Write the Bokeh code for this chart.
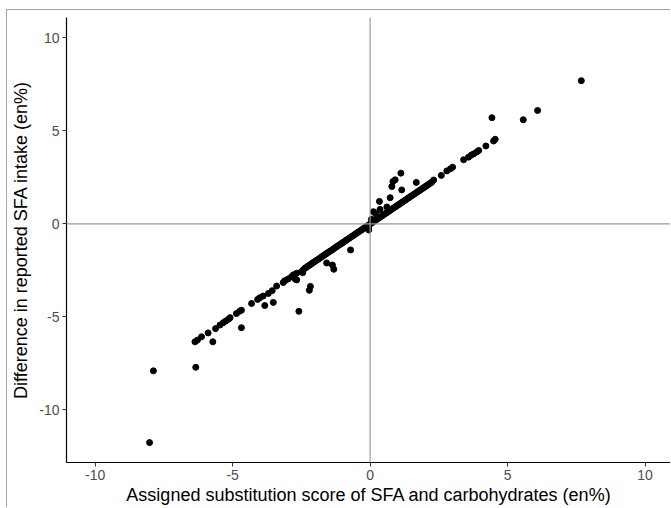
from bokeh.plotting import figure
from bokeh.models import Range1d, FixedTicker, Span
from bokeh.embed import file_html
from bokeh.resources import INLINE

# ---- data ----
assigned_score = [
    -8.02, -7.88, -6.34,
    -6.37, -6.28, -6.13, -5.89, -5.72, -5.62, -5.46, -5.34, -5.25, -5.15, -5.09,
    -4.86, -4.74, -4.68, -4.68, -4.31, -4.09, -4.01, -3.89, -3.83, -3.70, -3.56,
    -3.52, -3.40, -3.16, -3.10, -2.98, -2.86, -2.79, -2.72, -2.67, -2.67, -2.59,
    -2.49, -2.45, -2.43,
    -2.21, -2.17, -1.58, -1.37, -1.32, -0.71, -0.05, -0.06,
    -2.37, -2.31, -2.26, -2.20, -2.15, -2.09, -2.04, -1.98, -1.93, -1.87, -1.82,
    -1.76, -1.71, -1.66, -1.60, -1.55, -1.49, -1.44, -1.38, -1.33, -1.27, -1.22,
    -1.17, -1.11, -1.05, -1.00, -0.95, -0.89, -0.84, -0.78, -0.73, -0.67, -0.62,
    -0.56, -0.51, -0.45, -0.40, -0.34, -0.29, -0.23, -0.18, -0.12, -0.07, -0.02,
    0.03, 0.08, 0.14, 0.19, 0.25, 0.30, 0.36, 0.41, 0.47, 0.52, 0.58, 0.63, 0.69,
    0.74, 0.80, 0.85, 0.91, 0.96, 1.02, 1.07, 1.13, 1.18, 1.24, 1.29, 1.35, 1.40,
    1.46, 1.51, 1.57, 1.62, 1.68, 1.73, 1.79, 1.84, 1.90, 1.95, 2.01, 2.06, 2.12,
    2.18, 2.24,
    2.31, 2.59, 2.79, 2.92, 3.00, 3.40, 3.58, 3.68, 3.77, 3.89, 3.95, 4.21, 4.49,
    4.55, 4.43, 5.57, 6.09, 7.68,
    1.12, 0.91, 0.83, 0.79, 1.15, 1.68, 0.73, 0.34, 0.36, 0.61, 0.12, 0.20, 0.05,
]
sfa_difference = [
    -11.76, -7.90, -7.71,
    -6.34, -6.25, -6.07, -5.86, -6.34, -5.63, -5.44, -5.31, -5.22, -5.13, -5.04,
    -4.82, -4.69, -4.64, -5.58, -4.28, -4.06, -3.97, -3.88, -4.39, -3.74, -3.59,
    -4.22, -3.34, -3.15, -3.05, -2.96, -2.84, -2.74, -2.97, -3.01, -2.65, -4.70,
    -2.56, -2.62, -2.47,
    -3.57, -3.36, -2.10, -2.21, -2.44, -1.40, -0.33, -0.22,
    -2.38, -2.33, -2.27, -2.21, -2.17, -2.10, -2.05, -1.99, -1.94, -1.89, -1.83,
    -1.77, -1.72, -1.67, -1.61, -1.56, -1.50, -1.45, -1.40, -1.34, -1.28, -1.23,
    -1.18, -1.12, -1.06, -1.01, -0.96, -0.90, -0.85, -0.79, -0.74, -0.68, -0.63,
    -0.57, -0.52, -0.46, -0.41, -0.35, -0.30, -0.24, -0.19, -0.13, -0.08, -0.03,
    0.03, 0.08, 0.14, 0.19, 0.25, 0.30, 0.36, 0.41, 0.47, 0.52, 0.58, 0.63, 0.69,
    0.74, 0.80, 0.85, 0.91, 0.96, 1.02, 1.07, 1.13, 1.18, 1.24, 1.29, 1.35, 1.40,
    1.46, 1.51, 1.57, 1.62, 1.68, 1.73, 1.79, 1.84, 1.90, 1.95, 2.01, 2.06, 2.12,
    2.18, 2.24,
    2.36, 2.61, 2.85, 2.96, 3.05, 3.45, 3.59, 3.70, 3.77, 3.88, 3.95, 4.19, 4.46,
    4.55, 5.71, 5.60, 6.10, 7.70,
    2.73, 2.37, 2.28, 2.01, 1.83, 2.23, 1.41, 1.21, 0.78, 0.91, 0.66, 0.55, 0.25,
]
tick_values = [-10, -5, 0, 5, 10]
tick_labels = ["-10", "-5", "0", "5", "10"]

FONT = "Liberation Sans"

p = figure(
    width=664, height=498,
    x_range=Range1d(-11.04, 10.96), y_range=Range1d(-12.83, 11.10),
    output_backend="svg", toolbar_location=None,
    min_border_left=59, min_border_right=0, min_border_top=7, min_border_bottom=46,
    margin=(9, 0, 0, 6),
    styles={"border-top": "1px solid #a6a6a6", "border-left": "1px solid #a6a6a6"},
)
p.outline_line_color = None
p.xgrid.visible = False
p.ygrid.visible = False
p.background_fill_color = "white"
p.border_fill_color = "white"

p.add_layout(Span(location=0, dimension="height", line_color="#9b9b9b", line_width=1.2))
p.add_layout(Span(location=0, dimension="width", line_color="#9b9b9b", line_width=1.2))

p.scatter(assigned_score, sfa_difference, size=6, color="black", line_color="black")

for ax in (p.xaxis[0], p.yaxis[0]):
    ax.ticker = FixedTicker(ticks=tick_values)
    ax.major_label_overrides = {v: s for v, s in zip(tick_values, tick_labels)}
    ax.minor_tick_line_color = None
    ax.major_tick_in = 0
    ax.major_tick_out = 4
    ax.major_tick_line_color = "#333333"
    ax.axis_line_color = "black"
    ax.axis_line_width = 1.2
    ax.major_label_text_font = FONT
    ax.major_label_text_font_size = "14px"
    ax.major_label_text_color = "#4d4d4d"
    ax.axis_label_text_font = FONT
    ax.axis_label_text_font_size = "18px"
    ax.axis_label_text_font_style = "normal"
    ax.axis_label_text_color = "black"
    ax.major_label_standoff = 3

p.xaxis.axis_label = "Assigned substitution score of SFA and carbohydrates (en%)"
p.yaxis.axis_label = "Difference in reported SFA intake (en%)"
p.xaxis.axis_label_standoff = 2
p.yaxis.axis_label_standoff = 5

open("out.html", "w").write(file_html(p, INLINE))
